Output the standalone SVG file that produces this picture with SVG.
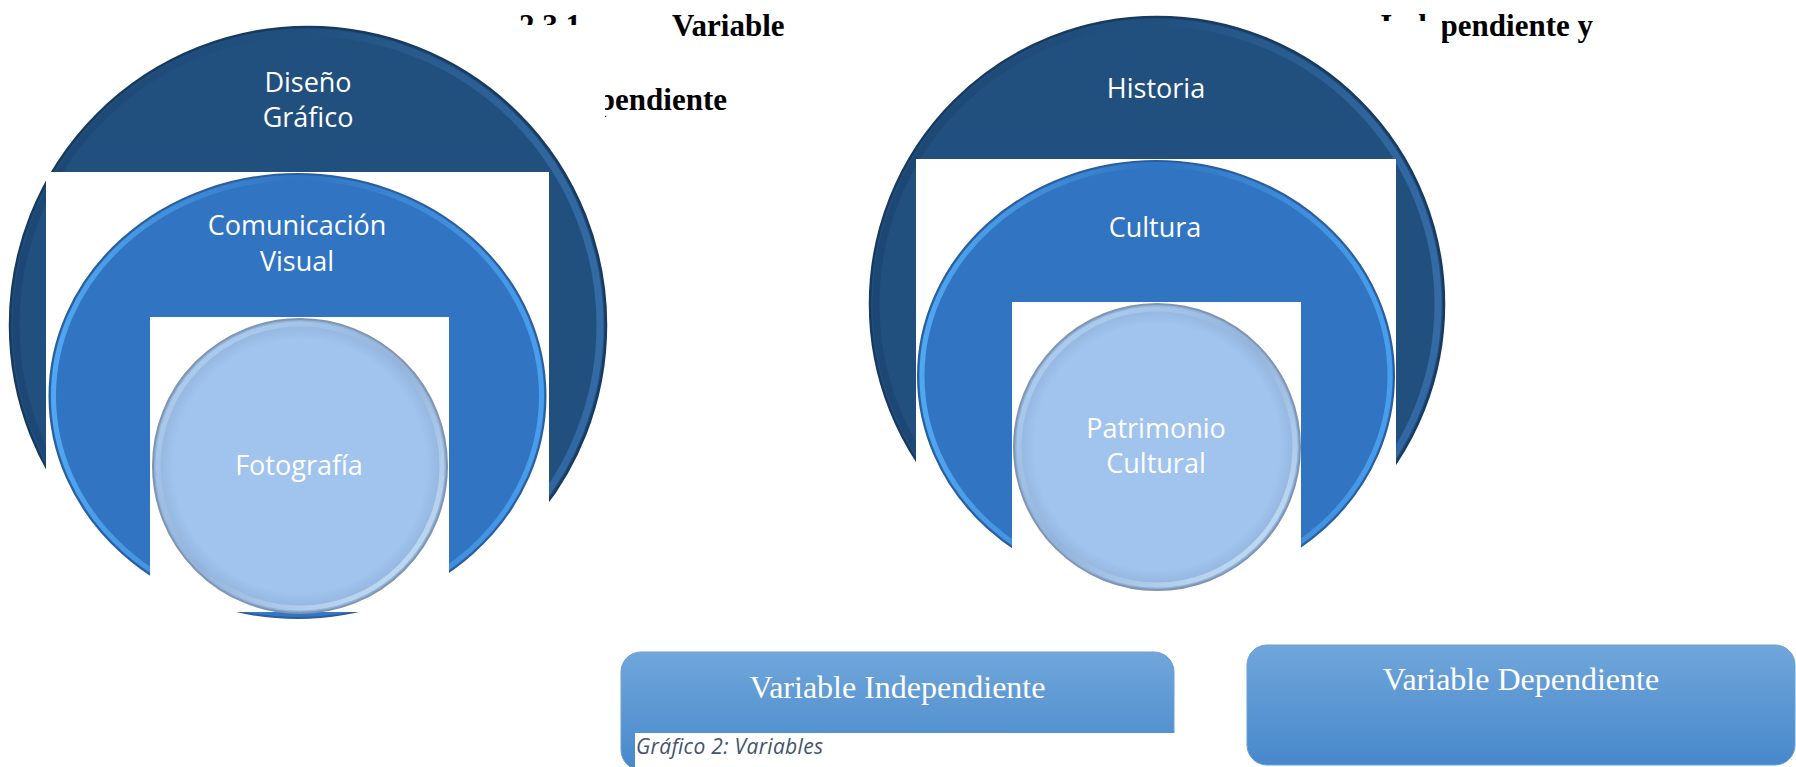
<svg xmlns="http://www.w3.org/2000/svg" width="1796" height="767" viewBox="0 0 1796 767">
<defs>
<style>
.hdr{font-family:"Liberation Serif","Times New Roman",serif;font-weight:bold;font-size:31px;fill:#000}
.lbl{font-family:"Open Sans","Noto Sans",sans-serif;font-size:27px;fill:#fff;text-anchor:middle}
.btn{font-family:"Liberation Serif","Times New Roman",serif;font-size:32px;fill:#fff;text-anchor:middle}
.cap{font-family:"Open Sans","Noto Sans",sans-serif;font-style:italic;font-size:21px;fill:#44546A}
.wh{fill:#fff}
.outer{fill:#21507F;stroke:#173B60;stroke-width:2.5}
.outerRim{fill:none;stroke:url(#rimO);stroke-width:7;opacity:.75}
.mid{fill:#3074C2;stroke:#2A5E9C;stroke-width:2}
.midRim{fill:none;stroke:url(#rimM);stroke-width:5;opacity:.85}
.inner{fill:url(#inG);stroke:#8095B0;stroke-width:2}
.innerRim{fill:none;stroke:url(#rimI);stroke-width:5;opacity:.85}
.box{fill:url(#boxG);stroke:#6C9FD3;stroke-width:1}
</style>
<linearGradient id="rimO" x1="0" y1="0" x2="1" y2="0">
<stop offset="0" stop-color="#1B4470"/><stop offset="0.5" stop-color="#21507F"/><stop offset="1" stop-color="#3A74B2"/>
</linearGradient>
<linearGradient id="rimM" x1="0" y1="0" x2="1" y2="0">
<stop offset="0" stop-color="#56B0FA"/><stop offset="0.5" stop-color="#3074C2"/><stop offset="1" stop-color="#4DA6F6"/>
</linearGradient>
<linearGradient id="rimI" x1="0" y1="0" x2="1" y2="1">
<stop offset="0" stop-color="#B9D9FA"/><stop offset="0.5" stop-color="#93B3DA"/><stop offset="1" stop-color="#D6EEFF"/>
</linearGradient>
<radialGradient id="inG" cx="0.5" cy="0.5" r="0.5">
<stop offset="0.86" stop-color="#A0C4EE"/><stop offset="1" stop-color="#90B1DA"/>
</radialGradient>
<linearGradient id="boxG" x1="0" y1="0" x2="0" y2="1">
<stop offset="0" stop-color="#70A6DB"/><stop offset="1" stop-color="#4788CB"/>
</linearGradient>
</defs>

<g id="heading">
<text class="hdr" x="519" y="36">2.3.1</text>
<text class="hdr" x="672" y="36">Variable</text>
<text class="hdr" x="1593" y="36" text-anchor="end">Independiente y</text>
<text class="hdr" x="727" y="110" text-anchor="end">Dependiente</text>
</g>

<g id="frames">
<rect class="wh" x="0" y="25" width="605" height="615"/>
<rect class="wh" x="860" y="21" width="582" height="584"/>
</g>

<g id="node-diseno-grafico">
<circle class="outer" cx="308" cy="325" r="298"/>
<circle class="outerRim" cx="308" cy="325" r="292"/>
<text class="lbl" x="308" y="92">Diseño</text>
<text class="lbl" x="308" y="127">Gráfico</text>
</g>
<rect class="wh" x="46" y="172" width="503" height="460"/>
<g id="node-comunicacion-visual">
<ellipse class="mid" cx="297.5" cy="396" rx="248" ry="222"/>
<ellipse class="midRim" cx="297.5" cy="396" rx="244" ry="218"/>
<text class="lbl" x="297" y="235">Comunicación</text>
<text class="lbl" x="297" y="271">Visual</text>
</g>
<rect class="wh" x="150" y="317" width="299" height="295"/>
<g id="node-fotografia">
<circle class="inner" cx="300" cy="466" r="147"/>
<circle class="innerRim" cx="300" cy="466" r="142"/>
<text class="lbl" x="299" y="475">Fotografía</text>
</g>

<g id="node-historia">
<circle class="outer" cx="1157" cy="304" r="287"/>
<circle class="outerRim" cx="1157" cy="304" r="281"/>
<text class="lbl" x="1156" y="98">Historia</text>
</g>
<rect class="wh" x="916" y="159" width="480" height="450"/>
<g id="node-cultura">
<ellipse class="mid" cx="1156" cy="376" rx="238" ry="215"/>
<ellipse class="midRim" cx="1156" cy="376" rx="234" ry="211"/>
<text class="lbl" x="1155" y="237">Cultura</text>
</g>
<rect class="wh" x="1012" y="302" width="289" height="300"/>
<g id="node-patrimonio-cultural">
<circle class="inner" cx="1157" cy="447" r="143"/>
<circle class="innerRim" cx="1157" cy="447" r="138"/>
<text class="lbl" x="1156" y="438">Patrimonio</text>
<text class="lbl" x="1156" y="473">Cultural</text>
</g>

<g id="node-variable-independiente">
<rect class="box" x="621" y="652" width="553" height="118" rx="20"/>
<text class="btn" x="897.5" y="698">Variable Independiente</text>
</g>
<g id="caption">
<rect class="wh" x="635" y="733" width="545" height="34"/>
<text class="cap" x="636" y="754" textLength="187" lengthAdjust="spacing">Gráfico 2: Variables</text>
</g>
<g id="node-variable-dependiente">
<rect class="box" x="1247" y="645" width="548" height="120" rx="20"/>
<text class="btn" x="1521" y="690">Variable Dependiente</text>
</g>
<g id="connectors"/>
</svg>
